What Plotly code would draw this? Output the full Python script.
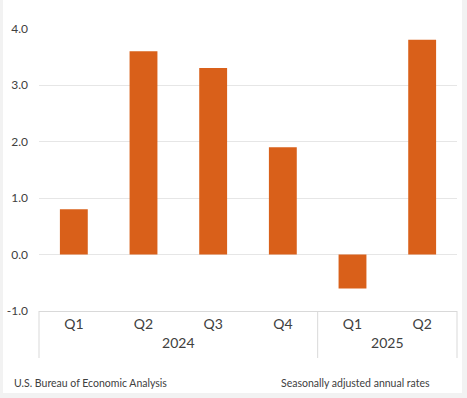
import plotly.graph_objects as go

years = ["2024", "2024", "2024", "2024", "2025", "2025"]
quarters = ["Q1", "Q2", "Q3", "Q4", "Q1", "Q2"]
values = [0.8, 3.6, 3.3, 1.9, -0.6, 3.8]
y_ticks = [-1.0, 0.0, 1.0, 2.0, 3.0, 4.0]

FONT = "Lato"
W, H = 467, 398
L, R, T, B = 39, 10, 28, 87
PW, PH = W - L - R, H - T - B

fig = go.Figure(go.Bar(
    x=[years, quarters], y=values,
    marker=dict(color="#D9601A", line=dict(width=0)),
    width=0.4,
))

fig.update_layout(
    width=W, height=H,
    margin=dict(l=L, r=R, t=T, b=B),
    paper_bgcolor="#F2F2F2", plot_bgcolor="white",
    font=dict(family=FONT, color="#404040", size=12),
    showlegend=False,
)
fig.add_shape(type="rect", xref="paper", yref="paper", layer="below",
              x0=(3 - L) / PW, x1=(W - 5 - L) / PW, y0=(5 - B) / PH, y1=(H - B) / PH,
              fillcolor="white", line=dict(width=0))
# category dividers (left edge, between years, right edge)
for xp in [0, 4 / 6, 1]:
    fig.add_shape(type="line", xref="paper", yref="paper",
                  x0=xp, x1=xp, y0=0, y1=-47 / PH,
                  line=dict(color="#D9D9D9", width=1))
fig.update_yaxes(
    range=[-1, 4.01], tickvals=y_ticks,
    ticktext=[f"{v:.1f}" for v in y_ticks],
    showgrid=True, gridcolor="#E6E6E6", gridwidth=1,
    zeroline=False, showline=False, automargin=False,
    tickfont=dict(size=12, color="#404040"),
    ticklabelstandoff=10,
)
fig.update_xaxes(
    type="multicategory", automargin=False,
    showline=True, linecolor="#D9D9D9", linewidth=1,
    showdividers=False,
    tickfont=dict(size=14, color="#404040"),
)
fig.add_annotation(text="U.S. Bureau of Economic Analysis", xref="paper", yref="paper",
                   x=(12 - L) / PW, y=-72 / PH, xanchor="left", yanchor="middle",
                   showarrow=False, font=dict(size=10.5, color="#404040", family=FONT))
fig.add_annotation(text="Seasonally adjusted annual rates", xref="paper", yref="paper",
                   x=(432 - L) / PW, y=-72 / PH, xanchor="right", yanchor="middle",
                   showarrow=False, font=dict(size=10.5, color="#404040", family=FONT))
fig.write_html("out.html", config={"displayModeBar": False},
               post_script="document.body.style.margin='0px';")
